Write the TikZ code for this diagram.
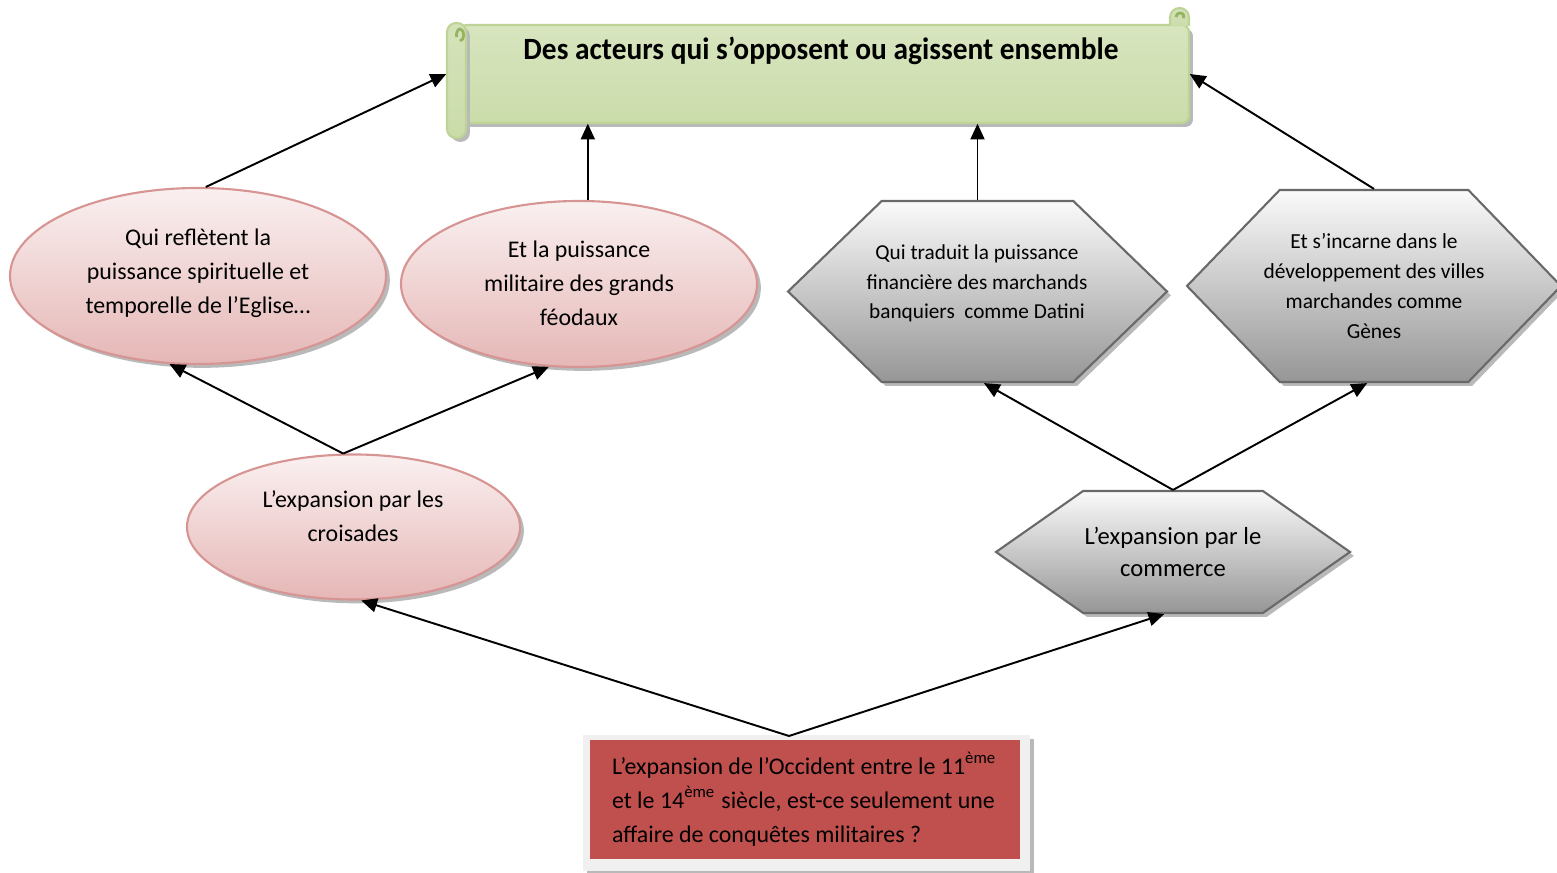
\documentclass[tikz,border=0pt]{standalone}
\usepackage{fontspec}
\setmainfont{Carlito}
\newfontfamily\titrefont[FakeStretch=0.95]{Carlito}
\usetikzlibrary{shapes.geometric,shapes.symbols,shadows,arrows.meta}

\definecolor{rosehaut}{RGB}{250,240,240}
\definecolor{rosebas}{RGB}{229,183,182}
\definecolor{rosetrait}{RGB}{214,148,146}
\definecolor{grishaut}{RGB}{250,250,250}
\definecolor{grisbas}{RGB}{150,150,150}
\definecolor{gristrait}{RGB}{105,105,105}
\definecolor{vertclair}{RGB}{235,242,223}
\definecolor{vertfonce}{RGB}{203,220,170}
\definecolor{verttrait}{RGB}{190,211,150}
\definecolor{vertroule}{RGB}{150,180,95}
\definecolor{rouge}{RGB}{192,80,77}
\definecolor{cadregris}{RGB}{240,240,240}

\begin{document}
\begin{tikzpicture}[
  fleche/.style={-{Triangle[length=4.5pt,width=4pt]}, line width=0.55pt},
  ombre/.style={drop shadow={shadow xshift=1.1pt,shadow yshift=-1.1pt,fill=gray!55,opacity=1}},
  bulle/.style={ellipse, draw=rosetrait, line width=0.6pt, top color=rosehaut, bottom color=rosebas, ombre, inner sep=0pt},
  hexa/.style={signal, signal to=west and east, draw=gristrait, line width=0.6pt, top color=grishaut, bottom color=grisbas, ombre, inner sep=0pt},
  texte/.style={align=center, inner sep=0pt, font=\fontsize{6.8}{9.7}\selectfont},
  rouleau/.style={draw=verttrait, line width=0.6pt, top color=vertfonce!70!vertclair, bottom color=vertfonce}
]
\useasboundingbox (0,0) rectangle (15.57,8.73);

% bandeau du titre
\filldraw[rouleau, ombre, rounded corners=2pt, top color=vertfonce!60!vertclair, middle color=vertclair, bottom color=vertfonce] (4.60,7.50) rectangle (11.89,8.48);
\filldraw[rouleau, ombre, rounded corners=0.09cm] (4.47,7.35) rectangle (4.66,8.50);
\filldraw[rouleau] (11.70,8.47) -- (11.70,8.555) arc (180:0:0.095) -- (11.89,8.47);
\draw[vertroule, line width=0.8pt] (4.60,8.32) arc (-90:200:0.035 and 0.06);
\draw[vertroule, line width=0.8pt] (11.76,8.56) arc (180:-20:0.04);
\node[minimum width=7.42cm, minimum height=0.98cm, inner sep=0pt] (titre) at (8.18,7.99) {};
\node[font=\titrefont\bfseries\fontsize{8.8}{10}\selectfont] (titretxt) at (8.21,8.22) {Des acteurs qui s’opposent ou agissent ensemble};

% les bulles
\node[bulle, minimum width=3.76cm, minimum height=1.76cm] (e1) at (1.98,5.97) {};
\node[bulle, minimum width=3.56cm, minimum height=1.66cm] (e2) at (5.79,5.89) {};
\node[bulle, minimum width=3.33cm, minimum height=1.45cm] (e3) at (3.535,3.46) {};
\node[texte] (e1t) at (1.98,6.00) {Qui reflètent la\\puissance spirituelle et\\temporelle de l’Eglise…};
\node[texte] (e2t) at (5.79,5.895) {Et la puissance\\militaire des grands\\féodaux};
\node[texte] (e3t) at (3.53,3.57) {L’expansion par les\\croisades};

% les hexagones
\node[hexa, signal pointer angle=88, minimum width=3.79cm, minimum height=1.81cm] (h1) at (9.775,5.815) {};
\node[hexa, signal pointer angle=92, minimum width=3.74cm, minimum height=1.92cm] (h2) at (13.74,5.87) {};
\node[hexa, signal pointer angle=70, minimum width=3.54cm, minimum height=1.22cm] (h3) at (11.73,3.21) {};
\node[texte, font=\fontsize{6.05}{8.4}\selectfont] (h1t) at (9.77,5.895) {Qui traduit la puissance\\financière des marchands\\banquiers~ comme Datini};
\node[texte, font=\fontsize{6.1}{8.5}\selectfont] (h2t) at (13.74,5.87) {Et s’incarne dans le\\développement des villes\\marchandes comme\\Gènes};
\node[texte, font=\fontsize{7}{9.1}\selectfont] (h3t) at (11.73,3.21) {L’expansion par le\\commerce};

% la question
\node[fill=cadregris, ombre, minimum width=4.47cm, minimum height=1.36cm] (cadre) at (8.065,0.70) {};
\node[fill=rouge, minimum width=4.30cm, minimum height=1.19cm, align=left, font=\fontsize{6.8}{9.7}\selectfont] (question) at (8.045,0.735) {L’expansion de l’Occident entre le 11\textsuperscript{ème}\\et le 14\textsuperscript{ème} siècle, est-ce seulement une\\affaire de conquêtes militaires ?};
\coordinate (q) at (7.89,1.37);

% les fleches
\draw[fleche] (e1.85) -- (titre.west);
\draw[fleche] (e2.84) -- (e2.84 |- titre.south);
\draw[fleche] (h1.north) -- (h1.north |- titre.south);
\draw[fleche] (h2.north) -- (titre.east);
\foreach \a/\b in {e3.98/e1.-108, e3.98/e2.-110, h3.north/h1.-86, h3.north/h2.-94, q/e3.-84, q/h3.-98}
  \draw[fleche] (\a) -- (\b);
\end{tikzpicture}
\end{document}
